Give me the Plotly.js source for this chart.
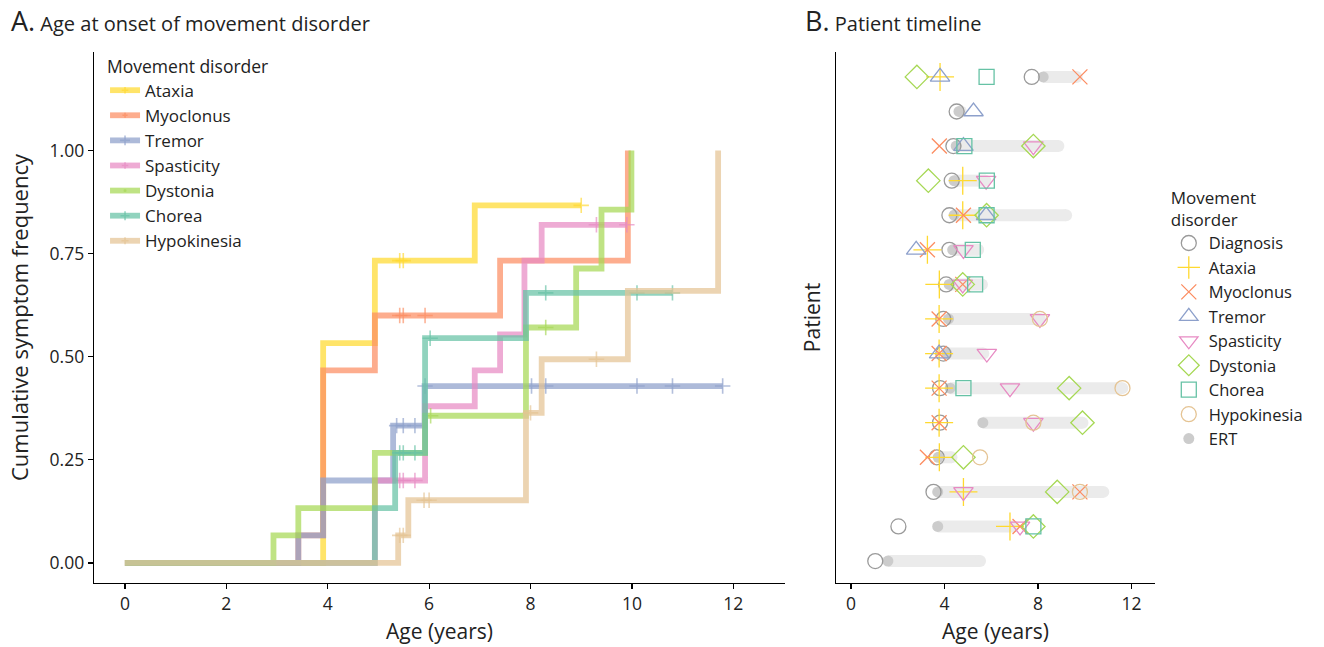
<!DOCTYPE html>
<html>
<head>
<meta charset="utf-8">
<script src="https://cdn.plot.ly/plotly-3.0.1.min.js"></script>
<style>html,body{margin:0;padding:0;background:#fff;}#chart{width:1324px;height:647px;}</style>
</head>
<body>
<div id="chart"></div>
<script>
// ---------- Panel A: cumulative onset curves (step vertices + censor marks) ----------
const seriesNames = ["Ataxia","Myoclonus","Tremor","Spasticity","Dystonia","Chorea","Hypokinesia"];
const seriesColors = ["255,217,47","252,141,98","141,160,203","231,138,195","166,216,84","102,194,165","229,196,148"];

const ataxiaStepX = [0, 3.91, 4.93, 6.9];
const ataxiaStepY = [0, 0.533, 0.733, 0.867];
const ataxiaCensX = [5.42, 5.49, 9.0];
const ataxiaCensY = [0.733, 0.733, 0.867];

const myoclonusStepX = [0, 3.42, 3.91, 4.93, 7.4, 9.92];
const myoclonusStepY = [0, 0.067, 0.467, 0.6, 0.733, 1.0];
const myoclonusCensX = [5.42, 5.49, 5.92];
const myoclonusCensY = [0.6, 0.6, 0.6];

const tremorStepX = [0, 3.42, 3.91, 5.29, 5.91];
const tremorStepY = [0, 0.067, 0.2, 0.333, 0.429];
const tremorCensX = [5.36, 5.49, 5.72, 5.92, 8.02, 8.3, 10.1, 10.8, 11.79];
const tremorCensY = [0.333, 0.333, 0.333, 0.429, 0.429, 0.429, 0.429, 0.429, 0.429];

const spasticityStepX = [0, 4.93, 5.92, 6.9, 7.4, 7.88, 8.22];
const spasticityStepY = [0, 0.2, 0.38, 0.467, 0.554, 0.733, 0.82];
const spasticityCensX = [5.42, 5.49, 5.72, 9.3, 9.9];
const spasticityCensY = [0.2, 0.2, 0.2, 0.82, 0.82];

const dystoniaStepX = [0, 2.93, 3.42, 4.93, 5.92, 7.91, 8.9, 9.4, 9.99];
const dystoniaStepY = [0, 0.067, 0.133, 0.267, 0.357, 0.571, 0.714, 0.857, 1.0];
const dystoniaCensX = [6.03, 8.3];
const dystoniaCensY = [0.357, 0.571];

const choreaStepX = [0, 4.93, 5.33, 5.92, 7.91];
const choreaStepY = [0, 0.133, 0.267, 0.545, 0.655];
const choreaCensX = [5.42, 5.49, 5.72, 6.02, 8.3, 10.1, 10.8];
const choreaCensY = [0.267, 0.267, 0.267, 0.545, 0.655, 0.655, 0.655];

const hypokinesiaStepX = [0, 5.39, 5.59, 7.91, 8.22, 9.92, 11.7];
const hypokinesiaStepY = [0, 0.067, 0.152, 0.364, 0.494, 0.66, 1.0];
const hypokinesiaCensX = [5.42, 5.49, 5.9, 6.0, 8.0, 9.3];
const hypokinesiaCensY = [0.067, 0.067, 0.152, 0.152, 0.364, 0.494];

const kmData = [
  [ataxiaStepX, ataxiaStepY, ataxiaCensX, ataxiaCensY],
  [myoclonusStepX, myoclonusStepY, myoclonusCensX, myoclonusCensY],
  [tremorStepX, tremorStepY, tremorCensX, tremorCensY],
  [spasticityStepX, spasticityStepY, spasticityCensX, spasticityCensY],
  [dystoniaStepX, dystoniaStepY, dystoniaCensX, dystoniaCensY],
  [choreaStepX, choreaStepY, choreaCensX, choreaCensY],
  [hypokinesiaStepX, hypokinesiaStepY, hypokinesiaCensX, hypokinesiaCensY]
];

// ---------- Panel B: patient timeline (patient 1 = bottom row, 15 = top row) ----------
const diagnosisX = [7.73, 4.52, 4.38, 4.31, 4.21, 4.21, 4.07, 3.95, 3.95, 3.81, 3.81, 3.67, 3.53, 2.03, 1.04];
const diagnosisP = [15, 14, 13, 12, 11, 10, 9, 8, 7, 6, 5, 4, 3, 2, 1];

const ataxiaX = [3.81, 4.78, 4.78, 3.27, 3.78, 3.77, 3.77, 3.77, 3.77, 3.78, 4.81, 6.8];
const ataxiaP = [15, 12, 11, 10, 9, 8, 7, 6, 5, 4, 3, 2];

const myoclonusX = [9.79, 3.78, 4.81, 3.27, 4.78, 3.77, 3.77, 3.77, 3.77, 3.27, 9.79, 7.23];
const myoclonusP = [15, 13, 11, 10, 9, 8, 7, 6, 5, 4, 3, 2];

const tremorX = [3.81, 5.24, 4.81, 5.78, 2.79, 3.77];
const tremorP = [15, 14, 13, 11, 10, 7];

const spasticityX = [7.8, 5.78, 4.81, 4.78, 8.08, 5.81, 6.8, 7.8, 4.81, 7.23];
const spasticityP = [13, 12, 10, 9, 8, 7, 6, 5, 3, 2];

const dystoniaX = [2.82, 7.8, 3.31, 5.8, 4.78, 9.33, 9.9, 4.81, 8.82, 7.8];
const dystoniaP = [15, 13, 12, 11, 9, 6, 5, 4, 3, 2];

const choreaX = [5.8, 4.85, 5.81, 5.8, 5.21, 5.31, 4.81, 7.8];
const choreaP = [15, 13, 12, 11, 10, 9, 6, 2];

const hypokinesiaX = [8.08, 11.61, 7.8, 5.52, 9.79];
const hypokinesiaP = [8, 6, 5, 4, 3];

const ertStart = [8.22, 4.62, 4.5, 4.41, 4.41, 4.35, 4.2, 4.17, 4.1, 4.24, 5.64, 3.73, 3.71, 3.71, 1.58];
const ertEnd   = [9.65, 4.7, 8.87, 5.75, 9.2, 5.44, 5.6, 8.08, 5.66, 11.6, 9.9, 4.3, 10.79, 6.94, 5.52];
const ertP     = [15, 14, 13, 12, 11, 10, 9, 8, 7, 6, 5, 4, 3, 2, 1];

const timelineNames = ["Diagnosis","Ataxia","Myoclonus","Tremor","Spasticity","Dystonia","Chorea","Hypokinesia"];

// ---------- build traces ----------
const traces = [];
const FONT = "Open Sans, Noto Sans, sans-serif";

kmData.forEach((d, i) => {
  const pts = [];
  d[0].forEach((x, k) => pts.push({x: x, y: d[1][k], c: 0}));
  d[2].forEach((x, k) => pts.push({x: x, y: d[3][k], c: 1}));
  pts.sort((a, b) => (a.x - b.x) || (a.c - b.c));
  traces.push({
    type: "scatter", mode: "lines+markers", name: seriesNames[i],
    x: pts.map(p => p.x), y: pts.map(p => p.y),
    line: {shape: "hv", width: 5.8, color: "rgba(" + seriesColors[i] + ",0.72)"},
    marker: {symbol: "cross-thin", size: pts.map(p => p.c ? 11 : 0),
             line: {width: 1.6, color: "rgba(" + seriesColors[i] + ",0.95)"},
             color: "rgba(" + seriesColors[i] + ",0.95)"},
    xaxis: "x", yaxis: "y", legend: "legend", cliponaxis: false
  });
});

// ERT bars
const barX = [], barY = [];
ertP.forEach((p, k) => { barX.push(ertStart[k], ertEnd[k], null); barY.push(p, p, null); });
traces.push({
  type: "scatter", mode: "lines", x: barX, y: barY, xaxis: "x2", yaxis: "y2",
  line: {color: "#ebebeb", width: 12}, showlegend: false, hoverinfo: "skip"
});
traces.push({
  type: "scatter", mode: "markers", x: ertEnd, y: ertP, xaxis: "x2", yaxis: "y2",
  marker: {color: "#ebebeb", size: 12}, showlegend: false, hoverinfo: "skip"
});

const tlX = [diagnosisX, ataxiaX, myoclonusX, tremorX, spasticityX, dystoniaX, choreaX, hypokinesiaX];
const tlP = [diagnosisP, ataxiaP, myoclonusP, tremorP, spasticityP, dystoniaP, choreaP, hypokinesiaP];
const tlSym = ["circle-open","cross-thin-open","x-thin-open","triangle-up-open","triangle-down-open","diamond-open","square-open","circle-open"];
const tlCol = ["#9a9a9a","#ffd92f","#fc8d62","#8da0cb","#e78ac3","#a6d854","#66c2a5","#e5c494"];
const tlSize = [15, 20, 15, 17, 17, 18, 15, 15];

traces.push({
  type: "scatter", mode: "markers", name: "ERT", x: ertStart, y: ertP, xaxis: "x2", yaxis: "y2",
  marker: {color: "#cccccc", size: 11}, legend: "legend2", legendrank: 1009
});

tlX.forEach((xs, i) => {
  traces.push({
    type: "scatter", mode: "markers", name: timelineNames[i], x: xs, y: tlP[i],
    xaxis: "x2", yaxis: "y2", legend: "legend2", legendrank: 1000 + i, cliponaxis: false,
    marker: {symbol: tlSym[i], size: tlSize[i], color: tlCol[i], line: {width: 1.3, color: tlCol[i]}}
  });
});

// ---------- layout ----------
const TICKF = {family: FONT, size: 17.5, color: "#222"};
const TITLEF = {family: FONT, size: 21, color: "#222"};
const axisCommon = {
  showline: true, linecolor: "#000", linewidth: 1.3, ticks: "outside", ticklen: 5, tickwidth: 1.2,
  tickcolor: "#000", showgrid: false, zeroline: false, tickfont: TICKF, automargin: false
};

const layout = {
  width: 1324, height: 647,
  margin: {l: 94, r: 169, t: 52, b: 64},
  paper_bgcolor: "#fff", plot_bgcolor: "#fff",
  font: {family: FONT, color: "#222"},
  xaxis: Object.assign({}, axisCommon, {
    domain: [0, 0.6513], range: [-0.61, 13.02], tickvals: [0, 2, 4, 6, 8, 10, 12], anchor: "y",
    title: {text: "Age (years)", font: TITLEF, standoff: 10}
  }),
  yaxis: Object.assign({}, axisCommon, {
    domain: [0, 1], range: [-0.0486, 1.239], tickvals: [0, 0.25, 0.5, 0.75, 1],
    ticktext: ["0.00", "0.25", "0.50", "0.75", "1.00"], anchor: "x",
    title: {text: "Cumulative symptom frequency", font: {family: FONT, size: 22, color: "#222"}, standoff: 15}
  }),
  xaxis2: Object.assign({}, axisCommon, {
    domain: [0.6993, 1], range: [-0.64, 13.0], tickvals: [0, 4, 8, 12], anchor: "y2",
    title: {text: "Age (years)", font: TITLEF, standoff: 10}
  }),
  yaxis2: Object.assign({}, axisCommon, {
    domain: [0, 1], range: [0.365, 15.72], anchor: "x2", ticks: "", showticklabels: false,
    title: {text: "Patient", font: TITLEF, standoff: 8}
  }),
  legend: {
    x: 0.0104, y: 1.004, xanchor: "left", yanchor: "top", bgcolor: "rgba(0,0,0,0)",
    font: {family: FONT, size: 17, color: "#222"}, itemwidth: 30, tracegroupgap: 0,
    title: {text: "Movement disorder", font: {family: FONT, size: 17.5, color: "#222"}}
  },
  legend2: {
    x: 1.013, y: 0.756, xanchor: "left", yanchor: "top", bgcolor: "rgba(0,0,0,0)",
    font: {family: FONT, size: 16.5, color: "#222"}, itemwidth: 30, tracegroupgap: 0,
    title: {text: "Movement<br>disorder", font: {family: FONT, size: 17, color: "#222"}}
  },
  annotations: [
    {xref: "paper", yref: "paper", x: -0.0802, y: 1.0585, xanchor: "left", yanchor: "middle", showarrow: false,
     text: '<span style="font-size:27px">A.</span> Age at onset of movement disorder',
     font: {family: FONT, size: 20, color: "#222"}},
    {xref: "paper", yref: "paper", x: 0.6682, y: 1.0585, xanchor: "left", yanchor: "middle", showarrow: false,
     text: '<span style="font-size:27px">B.</span> Patient timeline',
     font: {family: FONT, size: 20, color: "#222"}}
  ],
  showlegend: true
};

Plotly.newPlot("chart", traces, layout, {displayModeBar: false, staticPlot: true});
</script>
</body>
</html>
